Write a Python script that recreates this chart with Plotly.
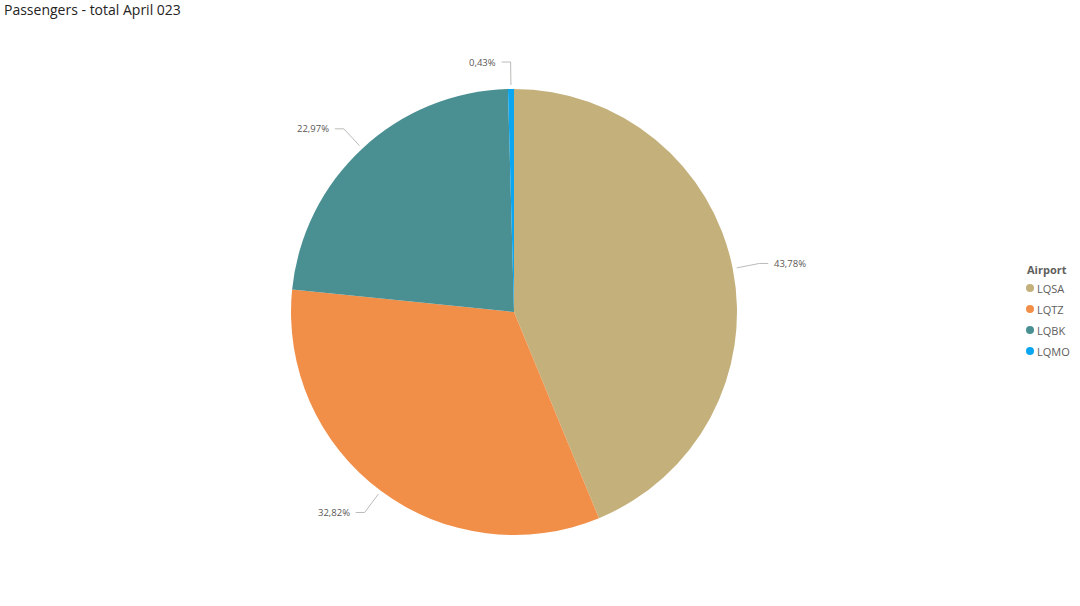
import math
import plotly.graph_objects as go

airports = ["LQSA", "LQTZ", "LQBK", "LQMO"]
shares = [43.78, 32.82, 22.97, 0.43]
colors = ["#C4B07B", "#F18F49", "#4A8F92", "#0AA6F0"]
legend_title = "Airport"
chart_title = "Passengers - total April 023"

W, H = 1080, 606
CX, CY, R = 514, 312, 223
FONT = "Segoe UI, Open Sans, sans-serif"

fig = go.Figure()

fig.add_trace(go.Pie(
    labels=airports, values=shares, sort=False, direction="clockwise", rotation=0,
    marker=dict(colors=colors, line=dict(width=0)),
    textinfo="none", hoverinfo="label+percent", showlegend=False,
    domain=dict(x=[(CX - R) / W, (CX + R) / W], y=[(H - CY - R) / H, (H - CY + R) / H]),
))

# outside labels with leader lines computed from the data
total = sum(shares)
cum = 0.0
shapes = []
annotations = []
for a, v in zip(airports, shares):
    mid = (cum + v / 2) / total * 2 * math.pi
    cum += v
    s, c = math.sin(mid), math.cos(mid)
    x1, y1 = CX + (R + 4) * s, CY - (R + 4) * c
    x2, y2 = CX + (R + 27) * s, CY - (R + 27) * c
    side = 1 if s > 0.01 else -1
    x3 = x2 + side * 9
    for (xa, ya, xb, yb) in [(x1, y1, x2, y2), (x2, y2, x3, y2)]:
        shapes.append(dict(type="line", xref="paper", yref="paper",
                           x0=xa / W, y0=1 - ya / H, x1=xb / W, y1=1 - yb / H,
                           line=dict(color="#BDBBB9", width=1)))
    annotations.append(dict(
        x=(x3 + side * 4) / W, y=1 - y2 / H, xref="paper", yref="paper",
        text=f"{v:.2f}%".replace(".", ","), showarrow=False,
        xanchor="left" if side > 0 else "right", yanchor="middle",
        font=dict(family=FONT, size=9.5, color="#5A5856")))

# chart title
annotations.append(dict(
    x=2 / W, y=1 - 10 / H, xref="paper", yref="paper", text=chart_title,
    showarrow=False, xanchor="left", yanchor="middle",
    font=dict(family=FONT, size=14, color="#252423")))

# legend (Power BI style: small circles, tight spacing)
LX, LY, STEP = 1025, 269, 21
annotations.append(dict(
    x=LX / W, y=1 - LY / H, xref="paper", yref="paper", text=f"<b>{legend_title}</b>",
    showarrow=False, xanchor="left", yanchor="middle",
    font=dict(family=FONT, size=11, color="#605E5C")))
for i, (a, col) in enumerate(zip(airports, colors)):
    yy = LY + STEP * (i + 1) - 2
    shapes.append(dict(type="circle", xref="paper", yref="paper",
                       xsizemode="pixel", ysizemode="pixel",
                       xanchor=(LX + 5) / W, yanchor=1 - yy / H,
                       x0=-4, x1=4, y0=-4, y1=4,
                       fillcolor=col, line=dict(width=0)))
    annotations.append(dict(
        x=(LX + 10) / W, y=1 - yy / H, xref="paper", yref="paper", text=a,
        showarrow=False, xanchor="left", yanchor="middle",
        font=dict(family=FONT, size=11, color="#605E5C")))

fig.update_layout(
    width=W, height=H, margin=dict(l=0, r=0, t=0, b=0, autoexpand=False),
    paper_bgcolor="white", plot_bgcolor="white",
    showlegend=False, shapes=shapes, annotations=annotations,
)

fig.write_html("out.html", config={"displayModeBar": False},
               post_script="document.body.style.margin='0';document.body.style.overflow='hidden';")
